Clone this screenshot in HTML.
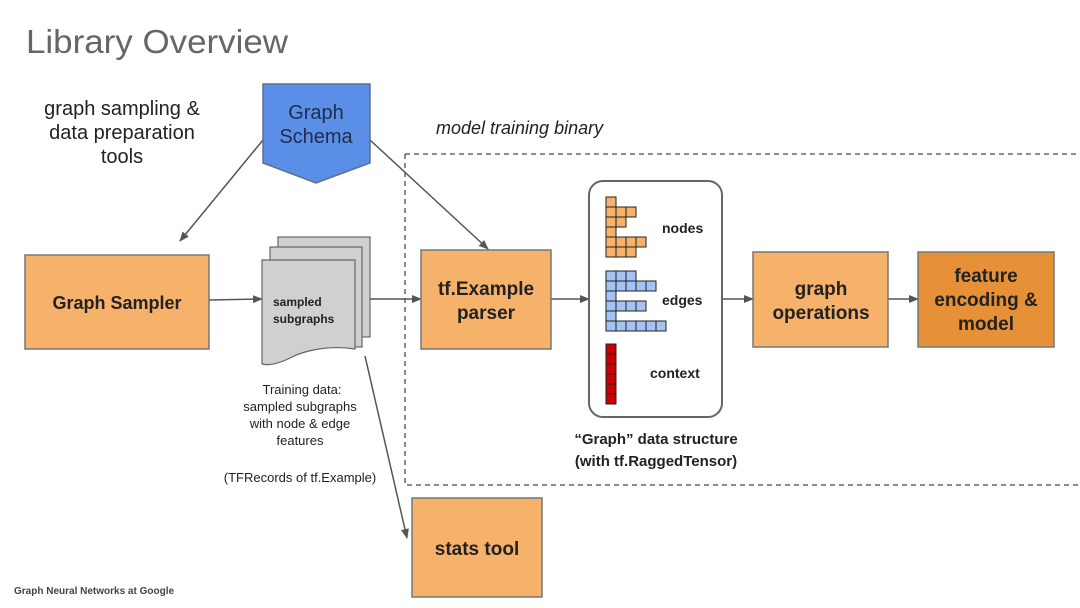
<!DOCTYPE html>
<html><head><meta charset="utf-8"><style>
html,body{margin:0;padding:0;background:#fff;}
svg{display:block;}
text{font-family:"Liberation Sans",sans-serif;}
</style></head><body>
<svg width="1080" height="608" viewBox="0 0 1080 608" xmlns="http://www.w3.org/2000/svg">
<defs>
<marker id="ah" markerWidth="10" markerHeight="8" refX="9" refY="4" orient="auto" markerUnits="userSpaceOnUse">
<path d="M0,0 L10,4 L0,8 z" fill="#555"/>
</marker>
</defs>
<rect width="1080" height="608" fill="#fff"/>
<text x="26" y="53" font-size="33" fill="#666" textLength="262" lengthAdjust="spacingAndGlyphs">Library Overview</text>
<text x="122" y="115" font-size="20" fill="#222" text-anchor="middle">graph sampling &amp;</text>
<text x="122" y="139" font-size="20" fill="#222" text-anchor="middle">data preparation</text>
<text x="122" y="163" font-size="20" fill="#222" text-anchor="middle">tools</text>

<!-- dashed region -->
<path d="M405,154 H1078 M405,154 V485 H1078" fill="none" stroke="#666" stroke-width="1.5" stroke-dasharray="5,4"/>
<text x="436" y="134" font-size="18" font-style="italic" fill="#222">model training binary</text>

<!-- connectors -->
<line x1="263" y1="140" x2="180" y2="241" stroke="#555" stroke-width="1.5" marker-end="url(#ah)"/>
<line x1="370" y1="140" x2="488" y2="249" stroke="#555" stroke-width="1.5" marker-end="url(#ah)"/>
<line x1="209" y1="300" x2="262" y2="299" stroke="#555" stroke-width="1.5" marker-end="url(#ah)"/>
<line x1="370" y1="299" x2="421" y2="299" stroke="#555" stroke-width="1.5" marker-end="url(#ah)"/>
<line x1="551" y1="299" x2="589" y2="299" stroke="#555" stroke-width="1.5" marker-end="url(#ah)"/>
<line x1="722" y1="299" x2="753" y2="299" stroke="#555" stroke-width="1.5" marker-end="url(#ah)"/>
<line x1="888" y1="299" x2="918" y2="299" stroke="#555" stroke-width="1.5" marker-end="url(#ah)"/>
<line x1="365" y1="356" x2="407" y2="538" stroke="#555" stroke-width="1.5" marker-end="url(#ah)"/>

<!-- Graph Schema -->
<path d="M263,84 H370 V163 L316,183 L263,163 Z" fill="#5b8ee6" stroke="#5d6f8c" stroke-width="1.5"/>
<text x="316" y="119" font-size="20" fill="#1f2d4a" text-anchor="middle">Graph</text>
<text x="316" y="143" font-size="20" fill="#1f2d4a" text-anchor="middle">Schema</text>

<!-- Graph Sampler -->
<rect x="25" y="255" width="184" height="94" fill="#f6b26b" stroke="#777" stroke-width="1.5"/>
<text x="117" y="309" font-size="18" font-weight="bold" fill="#222" text-anchor="middle">Graph Sampler</text>

<!-- documents -->
<rect x="278" y="237" width="92" height="100" fill="#d0d0d0" stroke="#666" stroke-width="1.2"/>
<rect x="270" y="247" width="92" height="100" fill="#d0d0d0" stroke="#666" stroke-width="1.2"/>
<path d="M262,260 H355 V349 C330,345 305,350 290,358 C280,363 270,366 262,364 Z" fill="#d0d0d0" stroke="#666" stroke-width="1.2"/>
<text x="273" y="306" font-size="12" font-weight="bold" fill="#222">sampled</text>
<text x="273" y="323" font-size="12" font-weight="bold" fill="#222">subgraphs</text>

<text x="302" y="394" font-size="13" fill="#222" text-anchor="middle">Training data:</text>
<text x="300" y="411" font-size="13" fill="#222" text-anchor="middle">sampled subgraphs</text>
<text x="300" y="428" font-size="13" fill="#222" text-anchor="middle">with node &amp; edge</text>
<text x="300" y="445" font-size="13" fill="#222" text-anchor="middle">features</text>
<text x="300" y="482" font-size="13" fill="#222" text-anchor="middle">(TFRecords of tf.Example)</text>

<!-- tf.Example parser -->
<rect x="421" y="250" width="130" height="99" fill="#f6b26b" stroke="#777" stroke-width="1.5"/>
<text x="486" y="295" font-size="19" font-weight="bold" fill="#222" text-anchor="middle">tf.Example</text>
<text x="486" y="319" font-size="19" font-weight="bold" fill="#222" text-anchor="middle">parser</text>

<!-- Graph data structure -->
<rect x="589" y="181" width="133" height="236" rx="14" fill="#fff" stroke="#666" stroke-width="2"/>
<g stroke="#222" stroke-width="1">
<g fill="#f6b26b">
<rect x="606" y="197" width="10" height="10"/>
<rect x="606" y="207" width="10" height="10"/><rect x="616" y="207" width="10" height="10"/><rect x="626" y="207" width="10" height="10"/>
<rect x="606" y="217" width="10" height="10"/><rect x="616" y="217" width="10" height="10"/>
<rect x="606" y="227" width="10" height="10"/>
<rect x="606" y="237" width="10" height="10"/><rect x="616" y="237" width="10" height="10"/><rect x="626" y="237" width="10" height="10"/><rect x="636" y="237" width="10" height="10"/>
<rect x="606" y="247" width="10" height="10"/><rect x="616" y="247" width="10" height="10"/><rect x="626" y="247" width="10" height="10"/>
</g>
<g fill="#a4c2f4">
<rect x="606" y="271" width="10" height="10"/><rect x="616" y="271" width="10" height="10"/><rect x="626" y="271" width="10" height="10"/>
<rect x="606" y="281" width="10" height="10"/><rect x="616" y="281" width="10" height="10"/><rect x="626" y="281" width="10" height="10"/><rect x="636" y="281" width="10" height="10"/><rect x="646" y="281" width="10" height="10"/>
<rect x="606" y="291" width="10" height="10"/>
<rect x="606" y="301" width="10" height="10"/><rect x="616" y="301" width="10" height="10"/><rect x="626" y="301" width="10" height="10"/><rect x="636" y="301" width="10" height="10"/>
<rect x="606" y="311" width="10" height="10"/>
<rect x="606" y="321" width="10" height="10"/><rect x="616" y="321" width="10" height="10"/><rect x="626" y="321" width="10" height="10"/><rect x="636" y="321" width="10" height="10"/><rect x="646" y="321" width="10" height="10"/><rect x="656" y="321" width="10" height="10"/>
</g>
<g fill="#cc0000">
<rect x="606" y="344" width="10" height="10"/><rect x="606" y="354" width="10" height="10"/><rect x="606" y="364" width="10" height="10"/>
<rect x="606" y="374" width="10" height="10"/><rect x="606" y="384" width="10" height="10"/><rect x="606" y="394" width="10" height="10"/>
</g>
</g>
<text x="662" y="233" font-size="14" font-weight="bold" fill="#222">nodes</text>
<text x="662" y="305" font-size="14" font-weight="bold" fill="#222">edges</text>
<text x="650" y="378" font-size="14" font-weight="bold" fill="#222">context</text>
<text x="656" y="444" font-size="15" font-weight="bold" fill="#222" text-anchor="middle">“Graph” data structure</text>
<text x="656" y="466" font-size="15" font-weight="bold" fill="#222" text-anchor="middle">(with tf.RaggedTensor)</text>

<!-- graph operations -->
<rect x="753" y="252" width="135" height="95" fill="#f6b26b" stroke="#777" stroke-width="1.5"/>
<text x="821" y="295" font-size="19" font-weight="bold" fill="#222" text-anchor="middle">graph</text>
<text x="821" y="319" font-size="19" font-weight="bold" fill="#222" text-anchor="middle">operations</text>

<!-- feature encoding -->
<rect x="918" y="252" width="136" height="95" fill="#e69138" stroke="#777" stroke-width="1.5"/>
<text x="986" y="282" font-size="19" font-weight="bold" fill="#222" text-anchor="middle">feature</text>
<text x="986" y="306" font-size="19" font-weight="bold" fill="#222" text-anchor="middle">encoding &amp;</text>
<text x="986" y="330" font-size="19" font-weight="bold" fill="#222" text-anchor="middle">model</text>

<!-- stats tool -->
<rect x="412" y="498" width="130" height="99" fill="#f6b26b" stroke="#777" stroke-width="1.5"/>
<text x="477" y="555" font-size="19" font-weight="bold" fill="#222" text-anchor="middle">stats tool</text>

<text x="14" y="594" font-size="10" font-weight="bold" fill="#444">Graph Neural Networks at Google</text>
</svg>
</body></html>
